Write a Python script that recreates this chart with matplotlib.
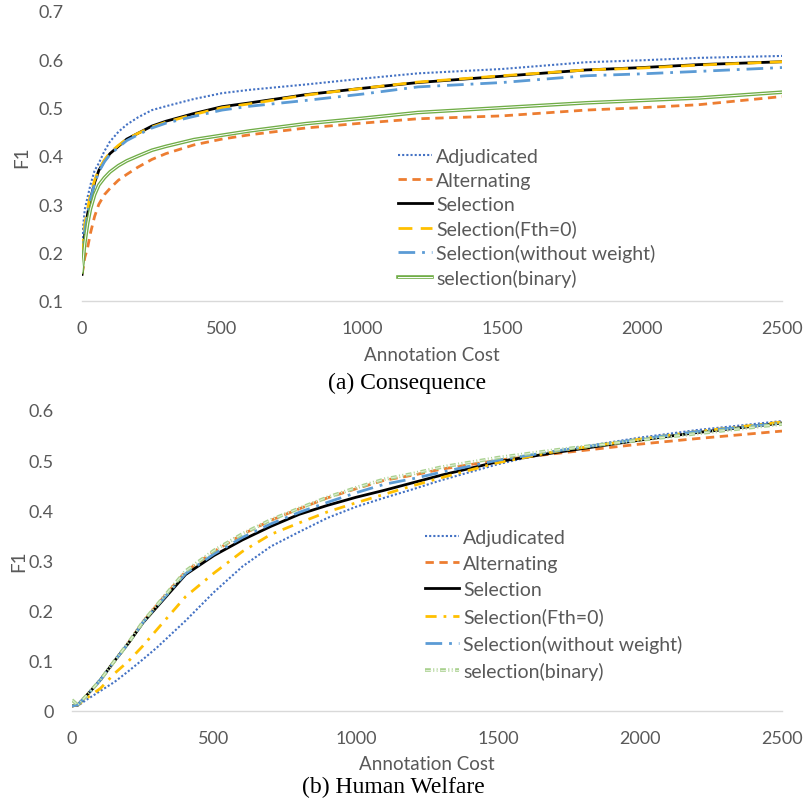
import matplotlib
matplotlib.use("Agg")
import matplotlib.pyplot as plt
import matplotlib.patheffects as pe

# ---------------- data: (a) Consequence ----------------
cost_a = [0, 5, 10, 20, 30, 45, 60, 80, 100, 130, 160, 200, 250, 300, 400, 500,
          600, 800, 1000, 1200, 1500, 1800, 2000, 2200, 2500]
a_adjudicated = [0.23, 0.26, 0.29, 0.315, 0.34, 0.37, 0.385, 0.41, 0.43, 0.45, 0.465, 0.48,
                 0.495, 0.503, 0.518, 0.53, 0.537, 0.548, 0.56, 0.571, 0.58, 0.594, 0.598, 0.603, 0.607]
a_alternating = [0.155, 0.17, 0.19, 0.21, 0.24, 0.275, 0.3, 0.32, 0.333, 0.35, 0.362, 0.377,
                 0.393, 0.405, 0.423, 0.435, 0.444, 0.458, 0.468, 0.477, 0.483, 0.495, 0.5, 0.506, 0.523]
a_selection = [0.155, 0.2, 0.24, 0.28, 0.31, 0.345, 0.37, 0.39, 0.405, 0.42, 0.435, 0.447,
               0.462, 0.472, 0.488, 0.502, 0.51, 0.527, 0.54, 0.552, 0.565, 0.578, 0.583, 0.589, 0.595]
a_fth0 = [0.2, 0.23, 0.26, 0.29, 0.32, 0.35, 0.372, 0.392, 0.407, 0.422, 0.435, 0.447,
          0.46, 0.47, 0.486, 0.5, 0.508, 0.526, 0.54, 0.553, 0.566, 0.578, 0.582, 0.588, 0.595]
a_noweight = [0.17, 0.21, 0.245, 0.28, 0.31, 0.343, 0.367, 0.388, 0.403, 0.418, 0.432, 0.444,
              0.458, 0.468, 0.482, 0.495, 0.503, 0.515, 0.528, 0.543, 0.552, 0.566, 0.57, 0.575, 0.583]
a_binary = [0.16, 0.19, 0.22, 0.26, 0.29, 0.32, 0.34, 0.355, 0.367, 0.38, 0.39, 0.4,
            0.412, 0.42, 0.434, 0.443, 0.452, 0.467, 0.478, 0.49, 0.5, 0.51, 0.515, 0.52, 0.532]

# ---------------- data: (b) Human Welfare ----------------
cost_b = [0, 20, 50, 100, 150, 200, 250, 300, 400, 500, 600, 700, 800, 900, 1000,
          1100, 1200, 1300, 1500, 1700, 2000, 2200, 2500]
b_adjudicated = [0.01, 0.01, 0.022, 0.04, 0.058, 0.08, 0.103, 0.127, 0.18, 0.237, 0.288, 0.328,
                 0.357, 0.385, 0.407, 0.425, 0.442, 0.46, 0.492, 0.518, 0.545, 0.56, 0.578]
b_alternating = [0.01, 0.012, 0.03, 0.062, 0.1, 0.137, 0.178, 0.212, 0.278, 0.318, 0.352, 0.38,
                 0.403, 0.425, 0.443, 0.46, 0.47, 0.482, 0.5, 0.513, 0.532, 0.543, 0.558]
b_selection = [0.01, 0.012, 0.03, 0.062, 0.1, 0.136, 0.176, 0.208, 0.272, 0.31, 0.341, 0.368,
               0.392, 0.41, 0.426, 0.44, 0.455, 0.47, 0.497, 0.515, 0.54, 0.555, 0.574]
b_fth0 = [0.01, 0.012, 0.025, 0.045, 0.075, 0.1, 0.13, 0.163, 0.228, 0.275, 0.318, 0.352,
          0.375, 0.397, 0.415, 0.432, 0.449, 0.465, 0.495, 0.517, 0.542, 0.557, 0.576]
b_noweight = [0.01, 0.012, 0.03, 0.062, 0.1, 0.136, 0.177, 0.21, 0.274, 0.313, 0.346, 0.373,
              0.396, 0.416, 0.435, 0.452, 0.463, 0.476, 0.5, 0.518, 0.542, 0.557, 0.574]
b_binary = [0.022, 0.012, 0.03, 0.062, 0.1, 0.137, 0.178, 0.212, 0.279, 0.32, 0.353, 0.381,
            0.404, 0.426, 0.445, 0.462, 0.473, 0.486, 0.505, 0.52, 0.54, 0.553, 0.572]

labels_a = ["Adjudicated", "Alternating", "Selection", "Selection(Fth=0)",
            "Selection(without weight)", "selection(binary)"]
labels_b = labels_a

BLUE_D = "#4472C4"
ORANGE = "#ED7D31"
BLACK = "#000000"
YELLOW = "#FFC000"
BLUE_L = "#5B9BD5"
GREEN = "#70AD47"
GRAY = "#595959"

plt.rcParams['font.family'] = ['Lato', 'DejaVu Sans']

fig = plt.figure(figsize=(8.04, 8.04), dpi=100)
ax1 = fig.add_axes([82/804, 1-302/804, 700/804, 290/804])
ax2 = fig.add_axes([72/804, 1-712/804, 710/804, 301/804])

TICK_FS = 13
LEG_FS = 14
LAB_FS = 13.5


def style(ax, ylim, yticks, ylabels, xpad, ypad):
    ax.set_xlim(0, 2500)
    ax.set_ylim(*ylim)
    ax.set_xticks([0, 500, 1000, 1500, 2000, 2500])
    ax.set_yticks(yticks)
    ax.set_yticklabels(ylabels)
    for s in ['top', 'right', 'left']:
        ax.spines[s].set_visible(False)
    ax.spines['bottom'].set_color('#D9D9D9')
    ax.spines['bottom'].set_linewidth(1.0)
    ax.tick_params(axis='both', length=0, labelsize=TICK_FS, labelcolor=GRAY)
    ax.tick_params(axis='x', pad=14)
    ax.tick_params(axis='y', pad=13)
    ax.set_xlabel("Annotation Cost", color=GRAY, fontsize=LAB_FS, labelpad=xpad)
    ax.set_ylabel("F1", color=GRAY, fontsize=LAB_FS, labelpad=ypad)


# ---- chart (a)
ax1.plot(cost_a, a_adjudicated, color=BLUE_D, lw=1.5, linestyle=(0, (1, 1)), label=labels_a[0])
ax1.plot(cost_a, a_alternating, color=ORANGE, lw=2.0, linestyle=(0, (3, 2)), label=labels_a[1])
ax1.plot(cost_a, a_selection, color=BLACK, lw=2.0, label=labels_a[2])
ax1.plot(cost_a, a_fth0, color=YELLOW, lw=2.0, linestyle=(0, (5, 3)), label=labels_a[3])
ax1.plot(cost_a, a_noweight, color=BLUE_L, lw=2.0, linestyle=(0, (6, 2.5, 1, 2.5)), label=labels_a[4])
ax1.plot(cost_a, a_binary, color='white', lw=0.7, label=labels_a[5],
         path_effects=[pe.Stroke(linewidth=2.6, foreground=GREEN), pe.Normal()])
style(ax1, (0.1, 0.7), [0.1, 0.2, 0.3, 0.4, 0.5, 0.6, 0.7],
      ["0.1", "0.2", "0.3", "0.4", "0.5", "0.6", "0.7"], 7, 6)
ax1.legend(loc='upper left', bbox_to_anchor=((398-82)/700, (302-149)/290), frameon=False,
           fontsize=LEG_FS, handlelength=1.75, handletextpad=0.2, labelspacing=0.35,
           borderaxespad=0, borderpad=0, labelcolor=GRAY)

# ---- chart (b)
ax2.plot(cost_b, b_adjudicated, color=BLUE_D, lw=1.5, linestyle=(0, (1, 1)), label=labels_b[0])
ax2.plot(cost_b, b_alternating, color=ORANGE, lw=2.0, linestyle=(0, (3, 2)), label=labels_b[1])
ax2.plot(cost_b, b_selection, color=BLACK, lw=2.0, label=labels_b[2])
ax2.plot(cost_b, b_fth0, color=YELLOW, lw=2.0, linestyle=(0, (4, 2.5, 1, 2.5)), label=labels_b[3])
ax2.plot(cost_b, b_noweight, color=BLUE_L, lw=2.0, linestyle=(0, (6, 2.5, 1, 2.5)), label=labels_b[4])
ax2.plot(cost_b, b_binary, color='#E2EFDA', lw=0.7, linestyle=(0, (6, 2.5, 1, 2.5, 1, 2.5)),
         label=labels_b[5],
         path_effects=[pe.Stroke(linewidth=2.6, foreground='#A9D18E'), pe.Normal()])
style(ax2, (0, 0.6), [0, 0.1, 0.2, 0.3, 0.4, 0.5, 0.6],
      ["0", "0.1", "0.2", "0.3", "0.4", "0.5", "0.6"], 6, 1)
ax2.legend(loc='upper left', bbox_to_anchor=((425-72)/710, (712-530)/301), frameon=False,
           fontsize=LEG_FS, handlelength=1.75, handletextpad=0.2, labelspacing=0.47,
           borderaxespad=0, borderpad=0, labelcolor=GRAY)

# captions
fig.text(407/804, 1-383/804, "(a) Consequence", ha='center', va='center',
         fontsize=17, family=['Liberation Serif', 'DejaVu Serif'])
fig.text(393/804, 1-787/804, "(b) Human Welfare", ha='center', va='center',
         fontsize=17, family=['Liberation Serif', 'DejaVu Serif'])

fig.savefig("out.png", dpi=100)
